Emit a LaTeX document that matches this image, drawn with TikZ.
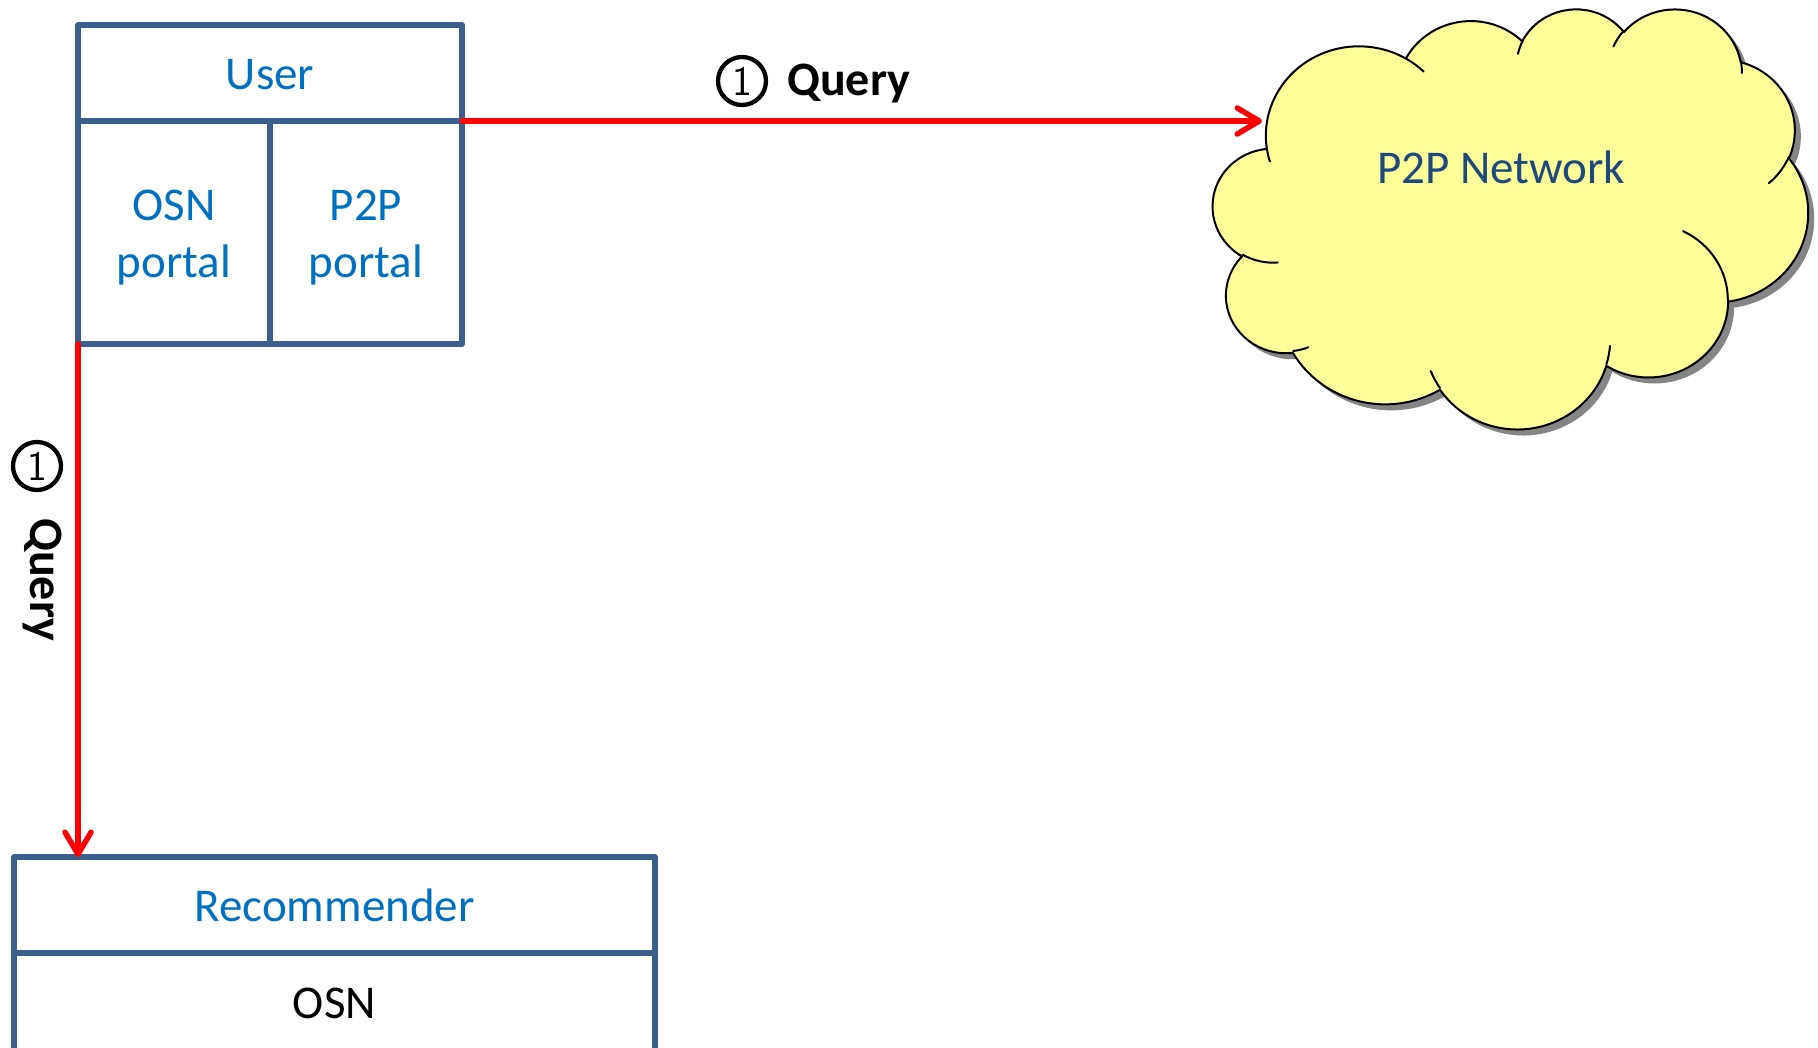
\documentclass[tikz,border=0pt]{standalone}
\usepackage{fontspec}
\setmainfont{Carlito}
\usetikzlibrary{arrows.meta}

\definecolor{boxline}{HTML}{3B5E8C}
\definecolor{boxtext}{HTML}{0070C0}
\definecolor{cloudtext}{HTML}{1F497D}
\definecolor{cloudfill}{HTML}{FFFF99}
\definecolor{cloudshadow}{HTML}{858585}
\definecolor{queryred}{HTML}{FF0000}

% One puff of the cloud: x radius, y radius, start angle, sweep.
% The angles are seen on the ellipse itself, so they are turned into
% the parametric angles that TikZ's elliptic arcs use.
\newcommand\cloudarc[4]{%
  \pgfextra{%
    \pgfmathparse{atan2((#1)*sin(#3),(#2)*cos(#3))}\xdef\cldS{\pgfmathresult}%
    \pgfmathparse{atan2((#1)*sin((#3)+(#4)),(#2)*cos((#3)+(#4)))}\xdef\cldE{\pgfmathresult}%
    \pgfmathparse{mod(\cldE-\cldS+720,360)}\xdef\cldD{\pgfmathresult}%
  }%
  arc[start angle=\cldS, delta angle=\cldD, x radius=#1, y radius=#2]}

% outline of the cloud, in a 4320 x 4320 frame
\newcommand\cloudbody{%
  (390,1437)
  \cloudarc{675.3}{919.0}{-190.4875}{123.7805}
  \cloudarc{533.3}{726.7}{-144.1024}{89.9452}
  \cloudarc{436.5}{594.5}{-145.8079}{99.7230}
  \cloudarc{485.7}{659.5}{-130.9861}{117.2417}
  \cloudarc{533.3}{727.3}{-78.7089}{109.0269}
  \cloudarc{677.5}{922.0}{-46.2673}{130.2690}
  \cloudarc{578.5}{786.7}{0.6250}{114.0333}
  \cloudarc{675.2}{921.5}{22.4516}{115.1726}
  \cloudarc{772.0}{1054.3}{66.2426}{75.7110}
  \cloudarc{436.0}{591.8}{-274.9421}{146.7356}
  \cloudarc{434.5}{594.5}{-246.8285}{152.5189}
  -- cycle}

% the short inner curves where the puffs overlap
\newcommand\cloudcreases{%
  (469.3,2617.7) \cloudarc{434.5}{594.5}{86.7420}{26.4295}
  (692.8,3489.9) \cloudarc{436.0}{591.8}{73.6105}{11.4475}
  (1647.8,3909.0) \cloudarc{675.2}{921.5}{137.6242}{14.0811}
  (2882.7,3475.1) \cloudarc{675.2}{921.5}{6.4533}{15.9984}
  (3412.9,2295.4) \cloudarc{578.5}{786.7}{-70.2924}{70.9174}
  (4179.8,1535.4) \cloudarc{533.3}{727.3}{30.3180}{27.7515}
  (3832.4,542.6) \cloudarc{485.7}{659.5}{-13.7443}{14.8589}
  (2907.8,395.2) \cloudarc{485.7}{659.5}{-149.1815}{18.1954}
  (2214.1,472.0) \cloudarc{436.5}{594.5}{-163.4943}{17.6864}
  (1400.0,519.2) \cloudarc{675.3}{919.0}{-66.7070}{12.3194}
  (412.7,1578.9) \cloudarc{675.3}{919.0}{157.6544}{11.8582}}

% two-line cell label, set a little low in its cell
\newcommand\twolines[2]{\raisebox{-5pt}[\height][\depth]{%
  \begin{tabular}{@{}c@{}}#1\\#2\end{tabular}}}

\tikzset{
  cell/.style={draw=boxline, line width=5.5pt, line join=round, rectangle,
    inner sep=0pt, outer sep=0pt, text=boxtext,
    font=\fontsize{47}{57}\selectfont},
  query/.style={draw=queryred, line width=5.5pt, line cap=round,
    -{Straight Barb[length=22pt, width=26pt, round]}},
  numcirc/.style={circle, draw=black, line width=4.3pt, minimum size=48pt,
    inner sep=0pt, font=\sffamily\fontsize{42}{42}\selectfont},
  querytext/.style={inner sep=0pt, font=\bfseries\fontsize{48}{48}\selectfont},
}

\begin{document}
\begin{tikzpicture}[x=1pt, y=-1pt]
  \useasboundingbox (0,0) rectangle (1818,1047);
  \fill[white] (0,0) rectangle (1818,1047);

  % P2P network cloud with its drop shadow
  \begin{scope}[shift={(1219,14)}, x=0.13773pt, y=-0.09722pt]
    \fill[cloudshadow] \cloudbody;
  \end{scope}
  \begin{scope}[shift={(1213,8)}, x=0.13773pt, y=-0.09722pt]
    \filldraw[fill=cloudfill, draw=black, line width=2pt, line join=round] \cloudbody;
    \draw[black, line width=2pt, line cap=round] \cloudcreases;
  \end{scope}
  \node[inner sep=0pt, anchor=base west, text=cloudtext,
        font=\fontsize{47}{57}\selectfont] (p2p) at (1377,183) {P2P Network};
  \coordinate (p2pin) at (1262,121);

  % user with its two portals
  \node[cell, minimum width=384pt, minimum height=96pt] (user) at (270,73)
    {\raisebox{-2pt}[\height][\depth]{User}};
  \node[cell, minimum width=192pt, minimum height=223pt] (osnp) at (174,232.5)
    {\twolines{OSN}{portal}};
  \node[cell, minimum width=192pt, minimum height=223pt] (p2pp) at (366,232.5)
    {\twolines{P2P}{portal}};

  % recommender on top of the OSN
  \node[cell, minimum width=641pt, minimum height=96pt] (rec) at (334.5,905) {Recommender};
  \node[cell, minimum width=641pt, minimum height=100pt, text=black] (osn) at (334.5,1003) {OSN};

  % queries
  \draw[query] (user.south east) -- (user.south east -| p2pin);
  \draw[query] (osnp.south west) -- (osnp.south west |- rec.north);

  \node[numcirc] (n1) at (742,81) {1};
  \node[querytext, anchor=base west] (q1) at (787,95) {Query};
  \node[numcirc] (n2) at (37,466) {1};
  \node[querytext, anchor=base west, rotate=-90] (q2) at (30,518) {Query};
\end{tikzpicture}
\end{document}
